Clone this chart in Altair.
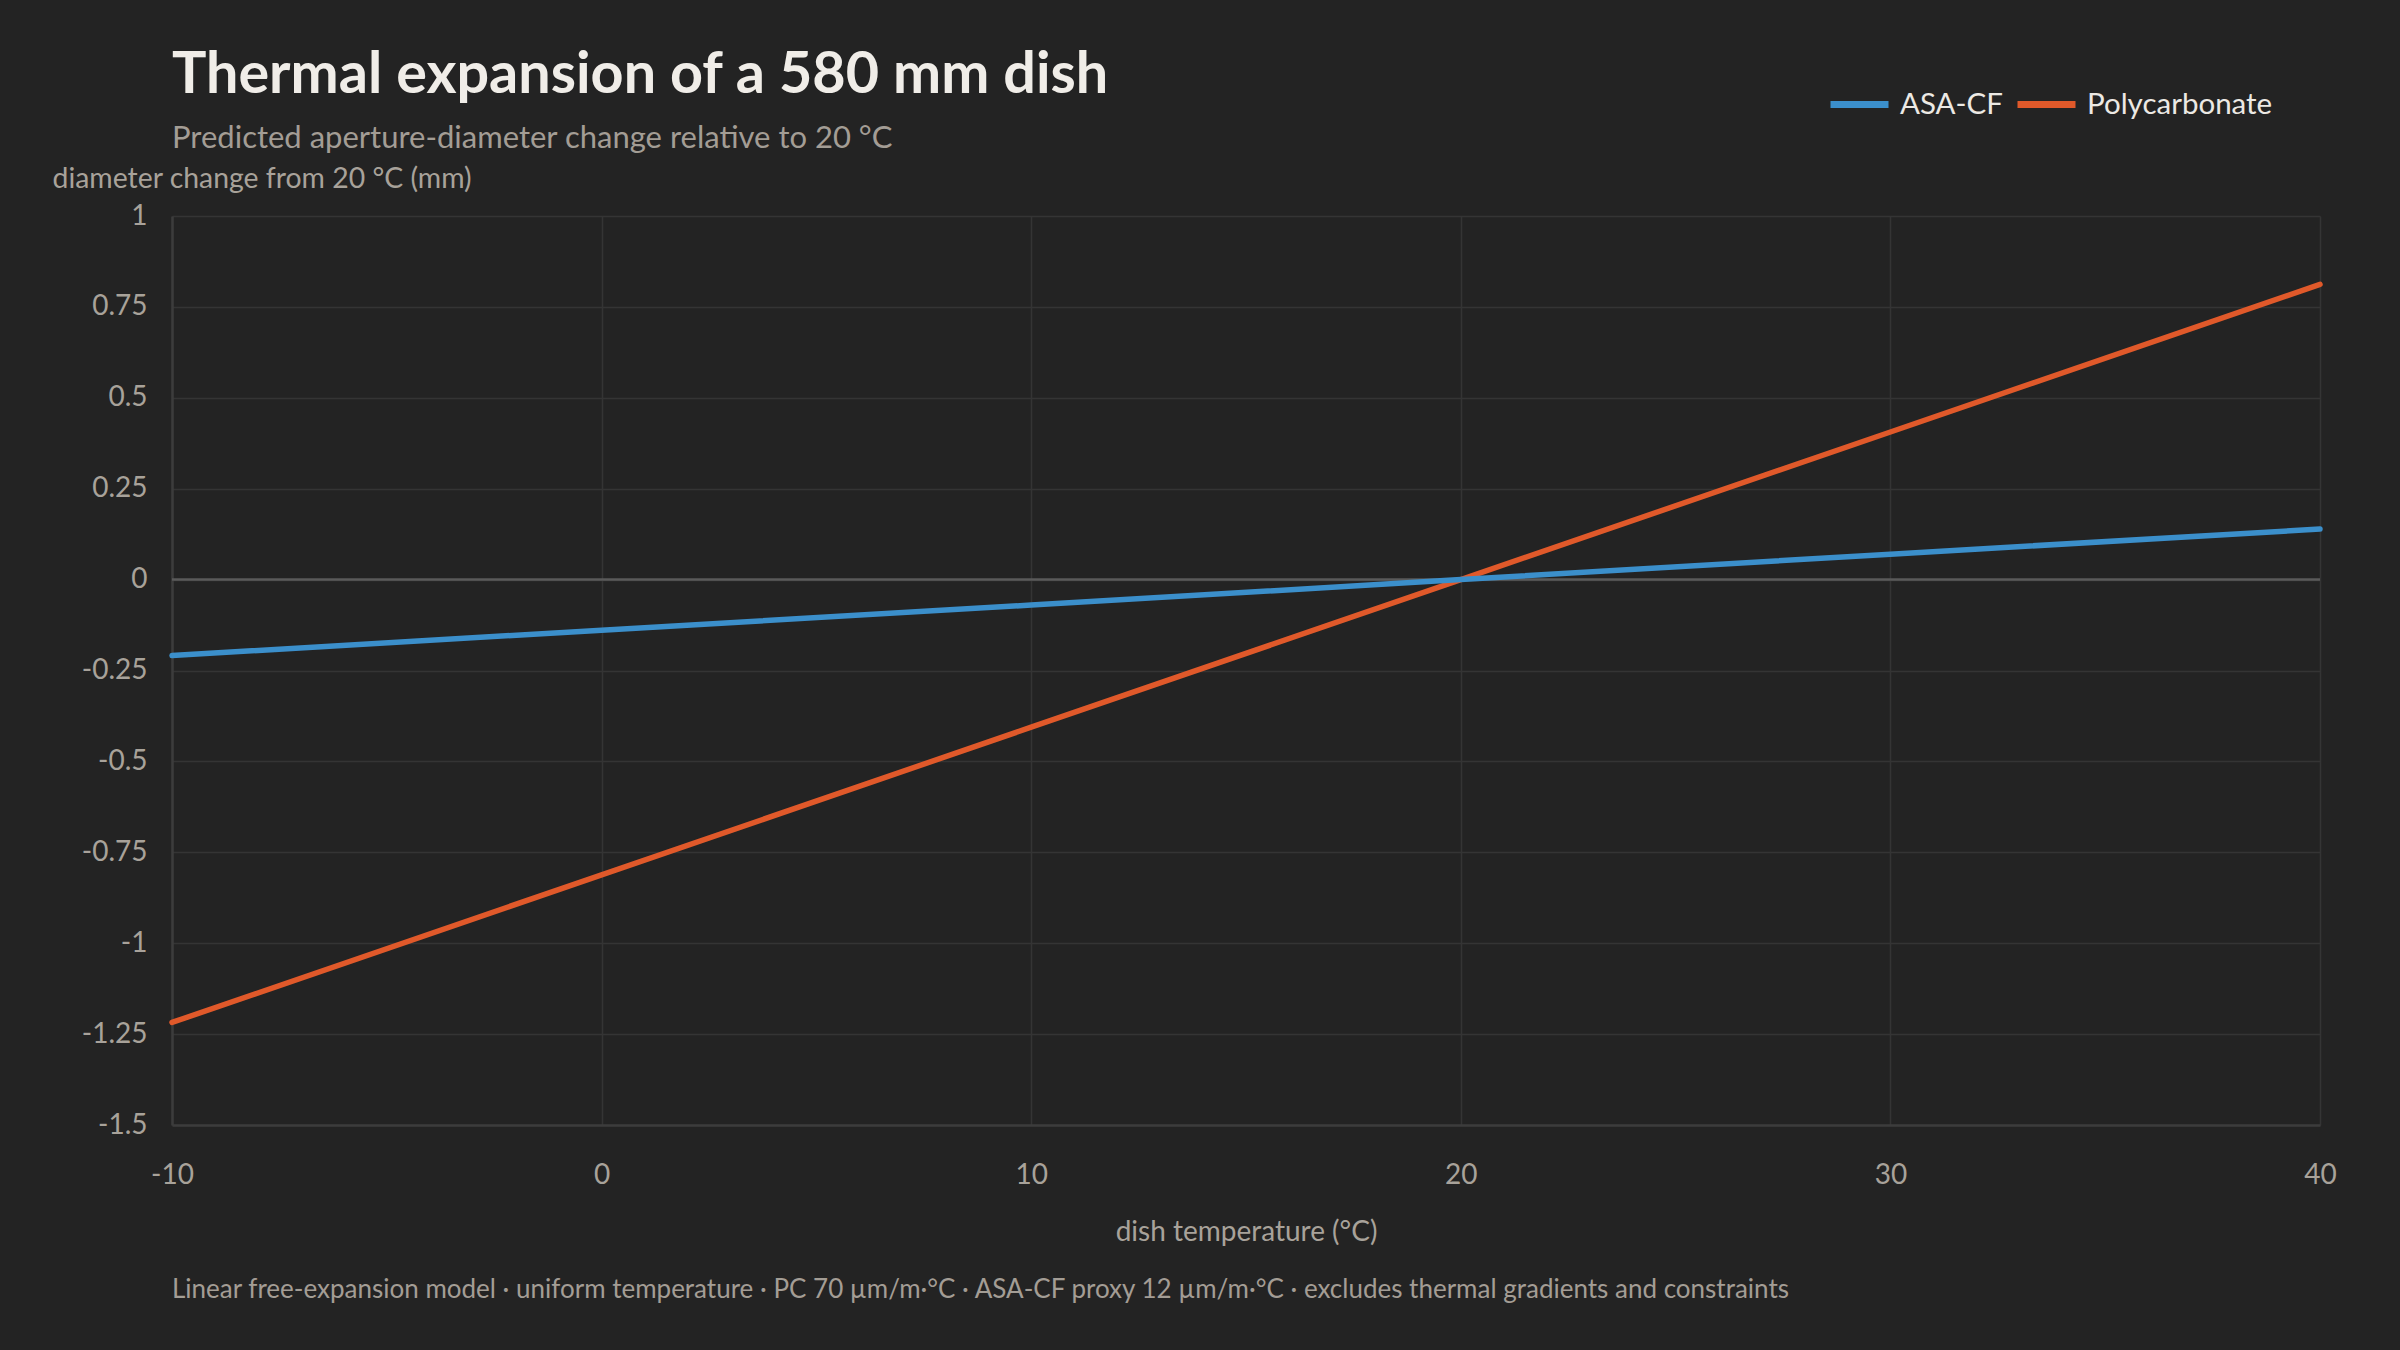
import altair as alt
import pandas as pd

# ---- data ----
temps = [-10, 0, 10, 20, 30, 40]
asa_cf = [-0.209, -0.139, -0.070, 0.0, 0.070, 0.139]
polycarbonate = [-1.218, -0.812, -0.406, 0.0, 0.406, 0.812]
series_names = ["ASA-CF", "Polycarbonate"]
series_colors = ["#3b8fcb", "#e0592a"]
y_ticks = [-1.5, -1.25, -1, -0.75, -0.5, -0.25, 0, 0.25, 0.5, 0.75, 1]
x_ticks = [-10, 0, 10, 20, 30, 40]

title_text = "Thermal expansion of a 580 mm dish"
subtitle_text = "Predicted aperture-diameter change relative to 20 °C"
y_title = "diameter change from 20 °C (mm)"
x_title = "dish temperature (°C)"
footer_text = ("Linear free-expansion model · uniform temperature · PC 70 µm/m·°C · "
               "ASA-CF proxy 12 µm/m·°C · excludes thermal gradients and constraints")

BG = "#232323"

# Polycarbonate rows first so ASA-CF is drawn on top
rows = []
for t, v in zip(temps, polycarbonate):
    rows.append({"temp": t, "value": v, "series": "Polycarbonate", "ord": 0})
for t, v in zip(temps, asa_cf):
    rows.append({"temp": t, "value": v, "series": "ASA-CF", "ord": 1})
df = pd.DataFrame(rows)

FONT = "Lato"
W, H = 2148, 909

x_enc = alt.X("temp:Q", title=x_title,
              scale=alt.Scale(domain=[-10, 40], nice=False, zero=False),
              axis=alt.Axis(values=x_ticks, labelExpr="'' + datum.value",
                            labelFontSize=28, labelColor="#a8a29a", labelFont=FONT,
                            labelPadding=36, ticks=False, labelFlush=False,
                            labelBound=False, labelOverlap=False,
                            titleFontSize=28, titleColor="#a8a29a", titleFont=FONT,
                            titleFontWeight="normal", titlePadding=29,
                            grid=True, gridColor="#343434", gridWidth=1.5,
                            domainColor="#3c3c3c", domainWidth=2.5))
y_enc = alt.Y("value:Q", title=y_title,
              scale=alt.Scale(domain=[-1.5, 1], nice=False, zero=False),
              axis=alt.Axis(values=y_ticks, labelExpr="'' + datum.value",
                            labelFontSize=28, labelColor="#a8a29a", labelFont=FONT,
                            labelPadding=25, ticks=False, labelOverlap=False,
                            labelFlush=False, labelBound=False,
                            titleFontSize=28.4, titleColor="#a8a29a", titleFont=FONT,
                            titleFontWeight="normal", titleAngle=0,
                            titleAlign="left", titleBaseline="alphabetic",
                            titleX=-120, titleY=-29,
                            grid=True, gridColor="#343434", gridWidth=1.5,
                            domainColor="#3c3c3c", domainWidth=2.5))

lines = alt.Chart(df).mark_line(strokeWidth=5.5, strokeCap="round").encode(
    x=x_enc,
    y=y_enc,
    color=alt.Color("series:N",
                    scale=alt.Scale(domain=series_names, range=series_colors),
                    legend=alt.Legend(title=None, orient="none", direction="horizontal",
                                      legendX=1655, legendY=-144,
                                      symbolType="stroke", symbolStrokeWidth=7,
                                      symbolSize=3364, labelFontSize=29.5,
                                      labelColor="#ece9e4", labelFont=FONT,
                                      labelOffset=8, columnPadding=0,
                                      labelLimit=400)),
    order=alt.Order("ord:Q"),
    detail="series:N",
)

zero_df = pd.DataFrame({"value": [0.0]})
zero_rule = alt.Chart(zero_df).mark_rule(color="#5a5a5a", strokeWidth=2.5).encode(
    y=alt.Y("value:Q")
)

footer_df = pd.DataFrame({"text": [footer_text]})
footer = alt.Chart(footer_df).mark_text(
    align="left", baseline="middle", fontSize=26, font=FONT, color="#a39d95"
).encode(x=alt.value(0), y=alt.value(1074), text="text:N")

chart = alt.layer(zero_rule, lines, footer).properties(
    width=W, height=H,
    title=alt.Title(text=title_text, subtitle=subtitle_text, anchor="start",
                    frame="group", font=FONT, fontSize=57.5, fontWeight="bold",
                    color="#f0ede8", subtitleFont=FONT, subtitleFontSize=31,
                    subtitleColor="#a39d95", subtitlePadding=19, offset=-83),
    padding={"left": 164, "top": 208, "right": 72, "bottom": 210},
    autosize=alt.AutoSizeParams(type="none"),
    background=BG,
).configure_view(stroke=None)

embed = {"renderer": "svg", "actions": False}
saved = False
try:
    import jinja2
    html = chart.to_html(embed_options=embed)
    html = html.replace("<head>", "<head>\n<style>html, body { background: %s; }</style>" % BG, 1)
    tmpl = jinja2.Template("{% raw %}" + html + "{% endraw %}")
    chart.save("out.html", embed_options=embed, template=tmpl)
    saved = True
except Exception:
    saved = False
if not saved:
    chart.save("out.html", embed_options=embed)
